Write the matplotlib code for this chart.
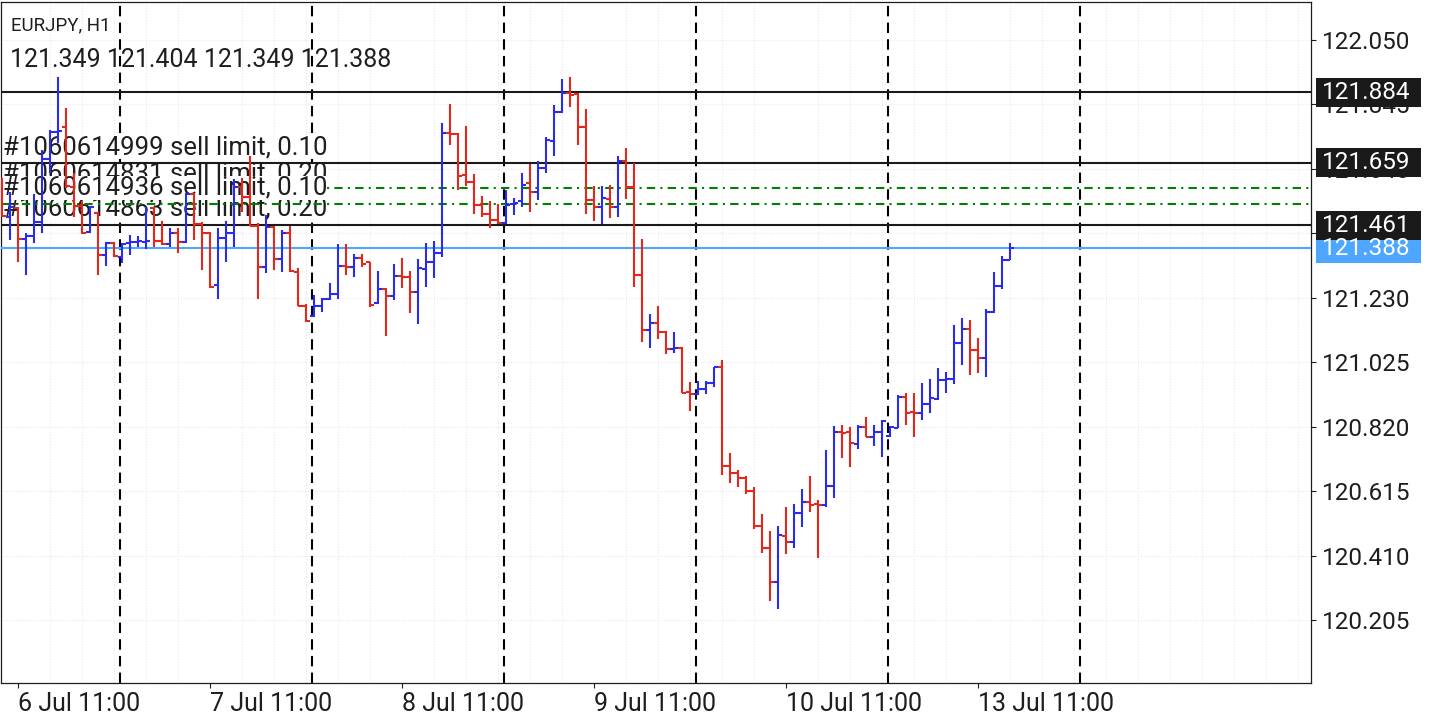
import numpy as np
import pandas as pd
import matplotlib.pyplot as plt
from matplotlib.patches import Rectangle

plt.rcParams['font.family'] = ['Roboto', 'DejaVu Sans']

# EURJPY H1, 6 Jul 09:00 .. 13 Jul 15:00 (weekend skipped)
times = pd.date_range('2020-07-06 09:00', '2020-07-10 23:00', freq='h').append(
    pd.date_range('2020-07-13 00:00', '2020-07-13 15:00', freq='h'))

opens = [121.583, 121.488, 121.515, 121.418, 121.426, 121.470, 121.670, 121.758, 121.774, 121.583,
         121.523, 121.439, 121.499, 121.366, 121.403, 121.361, 121.403, 121.407, 121.406, 121.515,
         121.411, 121.400, 121.435, 121.408, 121.559, 121.465, 121.435, 121.271, 121.421, 121.437,
         121.583, 121.550, 121.459, 121.329, 121.454, 121.352, 121.437, 121.313, 121.205, 121.172,
         121.205, 121.226, 121.241, 121.331, 121.329, 121.356, 121.342, 121.212, 121.259, 121.236,
         121.299, 121.297, 121.247, 121.322, 121.345, 121.373, 121.755, 121.751, 121.620, 121.599,
         121.525, 121.496, 121.477, 121.467, 121.528, 121.539, 121.594, 121.567, 121.644, 121.729,
         121.820, 121.880, 121.877, 121.772, 121.541, 121.518, 121.543, 121.520, 121.665, 121.583,
         121.302, 121.128, 121.151, 121.122, 121.067, 121.070, 120.931, 120.923, 120.939, 120.960,
         121.009, 120.696, 120.674, 120.658, 120.616, 120.505, 120.435, 120.327, 120.473, 120.454,
         120.544, 120.579, 120.575, 120.571, 120.632, 120.803, 120.802, 120.765, 120.818, 120.788,
         120.804, 120.791, 120.817, 120.915, 120.867, 120.864, 120.893, 120.908, 120.968, 120.971,
         121.085, 121.130, 121.064, 121.037, 121.183, 121.268, 121.349]
highs = [121.610, 121.567, 121.520, 121.435, 121.560, 121.700, 121.764, 121.933, 121.833, 121.628,
         121.539, 121.522, 121.504, 121.408, 121.408, 121.405, 121.430, 121.426, 121.520, 121.518,
         121.474, 121.451, 121.451, 121.564, 121.562, 121.470, 121.438, 121.451, 121.475, 121.608,
         121.610, 121.681, 121.467, 121.493, 121.458, 121.446, 121.459, 121.324, 121.210, 121.239,
         121.228, 121.278, 121.401, 121.401, 121.369, 121.369, 121.345, 121.316, 121.260, 121.337,
         121.356, 121.316, 121.352, 121.403, 121.411, 121.787, 121.846, 121.753, 121.776, 121.624,
         121.554, 121.536, 121.528, 121.571, 121.546, 121.626, 121.656, 121.665, 121.740, 121.843,
         121.926, 121.931, 121.882, 121.830, 121.586, 121.586, 121.589, 121.681, 121.705, 121.658,
         121.416, 121.178, 121.204, 121.125, 121.120, 121.072, 120.961, 120.964, 120.964, 121.011,
         121.032, 120.735, 120.682, 120.663, 120.629, 120.542, 120.488, 120.504, 120.565, 120.574,
         120.622, 120.663, 120.587, 120.746, 120.822, 120.825, 120.820, 120.825, 120.849, 120.825,
         120.841, 120.822, 120.921, 120.926, 120.928, 120.960, 120.972, 121.007, 120.995, 121.143,
         121.167, 121.159, 121.103, 121.193, 121.311, 121.363, 121.404]
lows = [121.488, 121.414, 121.345, 121.302, 121.405, 121.437, 121.626, 121.721, 121.580, 121.488,
        121.433, 121.437, 121.302, 121.331, 121.359, 121.340, 121.366, 121.392, 121.384, 121.392,
        121.397, 121.392, 121.373, 121.403, 121.414, 121.318, 121.260, 121.225, 121.345, 121.392,
        121.504, 121.458, 121.225, 121.310, 121.318, 121.313, 121.312, 121.202, 121.154, 121.168,
        121.184, 121.223, 121.225, 121.302, 121.295, 121.327, 121.200, 121.210, 121.108, 121.223,
        121.262, 121.181, 121.146, 121.265, 121.292, 121.361, 121.716, 121.571, 121.586, 121.496,
        121.488, 121.451, 121.465, 121.465, 121.493, 121.520, 121.504, 121.541, 121.628, 121.682,
        121.817, 121.838, 121.716, 121.496, 121.475, 121.465, 121.482, 121.488, 121.545, 121.265,
        121.090, 121.069, 121.100, 121.051, 121.053, 120.926, 120.871, 120.919, 120.923, 120.945,
        120.666, 120.642, 120.629, 120.605, 120.494, 120.419, 120.266, 120.241, 120.415, 120.433,
        120.502, 120.549, 120.403, 120.563, 120.594, 120.721, 120.693, 120.750, 120.786, 120.759,
        120.724, 120.788, 120.815, 120.825, 120.788, 120.841, 120.862, 120.905, 120.928, 120.955,
        121.016, 120.984, 120.992, 120.977, 121.180, 121.257, 121.349]
closes = [121.490, 121.520, 121.418, 121.427, 121.470, 121.670, 121.758, 121.761, 121.585, 121.523,
          121.437, 121.520, 121.366, 121.405, 121.363, 121.400, 121.407, 121.409, 121.409, 121.411,
          121.400, 121.435, 121.408, 121.559, 121.465, 121.435, 121.265, 121.421, 121.437, 121.583,
          121.550, 121.459, 121.329, 121.454, 121.352, 121.437, 121.315, 121.205, 121.156, 121.205,
          121.226, 121.241, 121.331, 121.329, 121.356, 121.337, 121.207, 121.257, 121.236, 121.299,
          121.297, 121.247, 121.324, 121.345, 121.373, 121.753, 121.751, 121.617, 121.599, 121.525,
          121.496, 121.477, 121.467, 121.525, 121.532, 121.589, 121.567, 121.644, 121.730, 121.822,
          121.880, 121.875, 121.774, 121.541, 121.518, 121.546, 121.520, 121.665, 121.583, 121.301,
          121.128, 121.151, 121.122, 121.068, 121.070, 120.928, 120.923, 120.940, 120.960, 121.009,
          120.696, 120.674, 120.658, 120.616, 120.505, 120.433, 120.327, 120.474, 120.454, 120.544,
          120.579, 120.572, 120.571, 120.632, 120.803, 120.799, 120.769, 120.820, 120.788, 120.802,
          120.839, 120.820, 120.915, 120.864, 120.862, 120.893, 120.912, 120.968, 120.973, 121.085,
          121.130, 121.064, 121.037, 121.183, 121.268, 121.350, 121.388]

order_levels = [121.884, 121.659, 121.461]
tp_levels = [121.580, 121.527]
bid = 121.388
order_labels = ['#1060614999 sell limit, 0.10', '#1060614831 sell limit, 0.20',
                '#1060614936 sell limit, 0.10', '#1060614863 sell limit, 0.20']
yticks = [122.050, 121.845, 121.640, 121.435, 121.230, 121.025, 120.820, 120.615, 120.410, 120.205]

BLUE = '#2b2bef'
RED = '#e5261b'
INK = '#1e1e1e'
BIDC = '#4da6ff'

fig = plt.figure(figsize=(14.4, 7.2), dpi=100)
ax = fig.add_axes([1 / 1440, 37 / 720, 1310 / 1440, 681.5 / 720])


def axf(px, py):
    # pixel position in the picture -> axes fraction
    return (px - 1) / 1310, (683 - py) / 681.5


o = np.array(opens)
h = np.array(highs)
l = np.array(lows)
c = np.array(closes)
x = np.arange(len(o))
col = np.where(c >= o, BLUE, RED)

ax.vlines(x, l, h, colors=col, lw=1.5, zorder=4)
ax.hlines(o, x - 0.45, x, colors=col, lw=1.5, zorder=4)
ax.hlines(c, x, x + 0.45, colors=col, lw=1.5, zorder=4)

ax.set_xlim(-0.125, 163.625)
ax.set_ylim(120.0046, 122.172)

# day separators (incl. the next day in the empty space)
day_starts = list(np.where(times.hour == 0)[0])
day_starts.append(day_starts[-1] + 24)
for d in day_starts:
    ax.axvline(d - 0.25, color='black', lw=1.5, ls=(0, (5, 3)), zorder=1.5)

# order / tp / bid lines
ax.axhline(tp_levels[0], color='#008000', lw=1.5, ls=(0, (4, 2.5, 1, 2.5)), zorder=1.5)
ax.axhline(tp_levels[1], color='#008000', lw=1.5, ls=(0, (4, 2.5, 1, 2.5)), zorder=3)
for lv in order_levels:
    ax.axhline(lv, color='#1a1a1a', lw=1.5, zorder=3)
ax.axhline(bid, color=BIDC, lw=1.5, zorder=3)

# order labels, white boxes overlap one another
ypos = [147, 174, 188, 209]
zo = [2.1, 2.0, 2.3, 2.2]
for lab, yp, z in zip(order_labels, ypos, zo):
    ax.text(*axf(3, yp), lab, transform=ax.transAxes, fontsize=18.5, color=INK,
            va='center', ha='left', zorder=z,
            bbox=dict(facecolor='white', edgecolor='none', pad=0))

ax.text(*axf(11, 25), 'EURJPY, H1', transform=ax.transAxes, fontsize=13.5,
        color=INK, va='center', ha='left', zorder=5)
ax.text(*axf(10, 60), '%.3f %.3f %.3f %.3f' % (o[-1], h[-1], l[-1], c[-1]),
        transform=ax.transAxes, fontsize=18, color=INK, va='center', ha='left', zorder=5)

# y axis on the right
ax.yaxis.tick_right()
ax.set_yticks(yticks)
ax.set_yticklabels(['%.3f' % v for v in yticks])
ax.tick_params(axis='y', direction='out', length=3.6, width=0.8, pad=4.3,
               labelsize=17.5, colors=INK)

# x axis: 11:00 each day
tick_idx = np.where(times.hour == 11)[0]
ax.set_xticks(tick_idx)
ax.set_xticklabels(['%d %s %s' % (t.day, t.strftime('%b'), t.strftime('%H:%M')) for t in times[tick_idx]])
for lab in ax.get_xticklabels():
    lab.set_ha('left')
ax.tick_params(axis='x', direction='out', length=3.5, width=0.8, pad=3,
               labelsize=18, colors=INK)
ax.set_xticks(np.arange(2, 164, 4), minor=True)
ax.tick_params(axis='x', which='minor', length=0)

ax.set_axisbelow(True)
ax.grid(which='minor', axis='x', color='#e8e8e8', ls=':', lw=0.8)
ax.grid(which='major', axis='y', color='#e8e8e8', ls=':', lw=0.8)
ax.grid(which='major', axis='x', visible=False)

for sp in ax.spines.values():
    sp.set_color(INK)
    sp.set_linewidth(0.9)

# price boxes on the right axis
pxu = (122.172 - 120.0046) / 681.5
boxes = [(bid, BIDC)] + [(lv, '#1a1a1a') for lv in order_levels]
for lv, fc in boxes:
    ax.add_patch(Rectangle((1.0038, lv - 14.5 * pxu), 0.0802, 29 * pxu,
                           transform=ax.get_yaxis_transform(), facecolor=fc,
                           edgecolor='none', clip_on=False, zorder=10))
    ax.text(1.0085, lv, '%.3f' % lv, transform=ax.get_yaxis_transform(),
            fontsize=17.5, color='white', va='center', ha='left', clip_on=False, zorder=11)

fig.savefig('out.png', dpi=100)
